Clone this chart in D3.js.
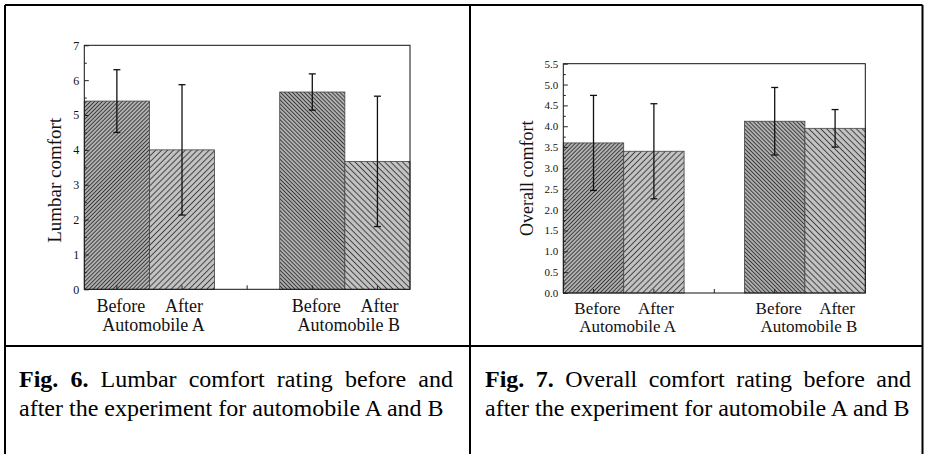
<!DOCTYPE html>
<html><head><meta charset="utf-8">
<script src="https://cdn.jsdelivr.net/npm/d3@7/dist/d3.min.js"></script>
<style>html,body{margin:0;padding:0;background:#fff;} svg{display:block;}</style>
</head><body>
<svg id="fig" width="927" height="454"></svg>
<script>
// ---------------- data ----------------
const groups = ["Automobile A", "Automobile B"];
const conditions = ["Before", "After"];
const lumbarMeans = [5.40, 4.00, 5.66, 3.67];
const lumbarErrors = [0.90, 1.87, 0.52, 1.87];
const overallMeans = [3.60, 3.40, 4.12, 3.95];
const overallErrors = [1.14, 1.14, 0.81, 0.45];
const lumbarTicks = [0, 1, 2, 3, 4, 5, 6, 7];
const overallTicks = [0, 0.5, 1, 1.5, 2, 2.5, 3, 3.5, 4, 4.5, 5, 5.5];
const yTitles = ["Lumbar comfort", "Overall comfort"];
const captionBold = ["Fig. 6.", "Fig. 7."];
const captionLine1 = [" Lumbar comfort rating before and", " Overall comfort rating before and"];
const captionLine2 = ["after the experiment for automobile A and B", "after the experiment for automobile A and B"];

// ---------------- setup ----------------
const FONT = "'Liberation Serif','Times New Roman',Times,serif";
const svg = d3.select("#fig");
const defs = svg.append("defs");

function hatch(id, angle, spacing, bg, fg, sw) {
  const p = defs.append("pattern").attr("id", id).attr("patternUnits", "userSpaceOnUse")
    .attr("width", spacing).attr("height", spacing)
    .attr("patternTransform", `rotate(${angle})`);
  p.append("rect").attr("width", spacing).attr("height", spacing).attr("fill", bg);
  p.append("line").attr("x1", spacing / 2).attr("x2", spacing / 2).attr("y1", -1).attr("y2", spacing + 1)
    .attr("stroke", fg).attr("stroke-width", sw);
}
hatch("hBeforeA", 45, 2.8, "#b4b4b4", "#3a3a3a", 1.0);
hatch("hAfterA", 45, 4.2, "#c4c4c4", "#404040", 1.0);
hatch("hBeforeB", -45, 2.8, "#b4b4b4", "#3a3a3a", 1.0);
hatch("hAfterB", -45, 4.2, "#c4c4c4", "#404040", 1.0);
const patternIds = ["hBeforeA", "hAfterA", "hBeforeB", "hAfterB"];

const slots = [];
groups.forEach((g, gi) => {
  conditions.forEach(c => slots.push(g + "|" + c));
  if (gi < groups.length - 1) slots.push("gap" + gi);
});

function drawChart(opt) {
  const g = svg.append("g");
  const x = d3.scaleBand().domain(slots).range([opt.left, opt.right]).padding(0);
  const y = d3.scaleLinear().domain([0, d3.max(opt.ticks)]).range([opt.bottom, opt.top]);
  const bw = x.bandwidth();

  const data = [];
  groups.forEach((gr, gi) => conditions.forEach((c, ci) => {
    const i = gi * conditions.length + ci;
    data.push({ key: gr + "|" + c, cond: c, group: gr, mean: opt.means[i], err: opt.errors[i], pat: patternIds[i] });
  }));

  g.selectAll("rect.bar").data(data).join("rect").attr("class", "bar")
    .attr("x", d => x(d.key)).attr("width", bw)
    .attr("y", d => y(d.mean)).attr("height", d => y(0) - y(d.mean))
    .attr("fill", d => `url(#${d.pat})`).attr("stroke", "#444").attr("stroke-width", 0.8);

  // frame
  g.append("rect").attr("x", opt.left).attr("y", opt.top)
    .attr("width", opt.right - opt.left).attr("height", opt.bottom - opt.top)
    .attr("fill", "none").attr("stroke", "#111").attr("stroke-width", 1);

  // y axis major
  const ya = g.append("g").attr("transform", `translate(${opt.left},0)`)
    .call(d3.axisLeft(y).tickValues(opt.ticks).tickSize(-4.5).tickPadding(5).tickFormat(opt.fmt));
  ya.select(".domain").remove();
  ya.selectAll("line").attr("stroke", "#222");
  ya.selectAll("text").attr("font-family", FONT).attr("font-size", opt.tickFont).attr("fill", "#111");
  // y axis minor
  const minor = [];
  for (let i = 0; i < opt.ticks.length - 1; i++) minor.push((opt.ticks[i] + opt.ticks[i + 1]) / 2);
  const ym = g.append("g").attr("transform", `translate(${opt.left},0)`)
    .call(d3.axisLeft(y).tickValues(minor).tickSize(-2.5).tickFormat(""));
  ym.select(".domain").remove();
  ym.selectAll("line").attr("stroke", "#222");

  // x axis ticks (inward)
  const xa = g.append("g").attr("transform", `translate(0,${opt.bottom})`)
    .call(d3.axisBottom(x).tickSize(-4).tickFormat(""));
  xa.select(".domain").remove();
  xa.selectAll("line").attr("stroke", "#222");

  // error bars
  const eb = g.selectAll("g.err").data(data).join("g").attr("class", "err")
    .attr("stroke", "#111").attr("stroke-width", 1.3);
  eb.append("line").attr("x1", d => x(d.key) + bw / 2).attr("x2", d => x(d.key) + bw / 2)
    .attr("y1", d => y(d.mean - d.err)).attr("y2", d => y(d.mean + d.err));
  eb.append("line").attr("x1", d => x(d.key) + bw / 2 - 3.5).attr("x2", d => x(d.key) + bw / 2 + 3.5)
    .attr("y1", d => y(d.mean + d.err)).attr("y2", d => y(d.mean + d.err));
  eb.append("line").attr("x1", d => x(d.key) + bw / 2 - 3.5).attr("x2", d => x(d.key) + bw / 2 + 3.5)
    .attr("y1", d => y(d.mean - d.err)).attr("y2", d => y(d.mean - d.err));

  // x labels
  g.selectAll("text.cond").data(data).join("text").attr("class", "cond")
    .attr("x", d => x(d.key) + bw / 2 + (d.cond === "Before" ? 4 : 2))
    .attr("y", opt.bottom + opt.condDy)
    .attr("text-anchor", "middle").attr("font-family", FONT).attr("font-size", opt.labelFont).attr("fill", "#111")
    .text(d => d.cond);
  g.selectAll("text.grp").data(groups).join("text").attr("class", "grp")
    .attr("x", gr => (x(gr + "|" + conditions[0]) + x(gr + "|" + conditions[conditions.length - 1]) + bw) / 2 + 4)
    .attr("y", opt.bottom + opt.grpDy)
    .attr("text-anchor", "middle").attr("font-family", FONT).attr("font-size", opt.labelFont).attr("fill", "#111")
    .text(gr => gr);

  // y title
  g.append("text").attr("transform", `translate(${opt.titleX},${(opt.top + opt.bottom) / 2 + opt.titleDy}) rotate(-90)`)
    .attr("text-anchor", "middle").attr("font-family", FONT).attr("font-size", opt.titleFont).attr("fill", "#111")
    .text(opt.title);
}

drawChart({ left: 84.3, right: 410, top: 45.3, bottom: 289.3, ticks: lumbarTicks, fmt: d3.format("d"),
  means: lumbarMeans, errors: lumbarErrors, tickFont: 12, labelFont: 18, condDy: 22.5, grpDy: 41.5,
  title: yTitles[0], titleX: 61, titleDy: 13, titleFont: 19 });
drawChart({ left: 563.3, right: 865.3, top: 63.7, bottom: 293, ticks: overallTicks, fmt: d3.format(".1f"),
  means: overallMeans, errors: overallErrors, tickFont: 11, labelFont: 17, condDy: 20.5, grpDy: 38.7,
  title: yTitles[1], titleX: 533, titleDy: 0, titleFont: 18 });

// table frame
const frame = svg.append("g").attr("stroke", "#000").attr("stroke-width", 2);
[[5, 5, 922.5, 5], [5, 346, 922.5, 346], [5, 5, 5, 460], [470, 5, 470, 460], [922.5, 5, 922.5, 460]]
  .forEach(l => frame.append("line").attr("x1", l[0]).attr("y1", l[1]).attr("x2", l[2]).attr("y2", l[3]));

// captions
const capX = [19, 485];
const capW = [434, 426];
captionBold.forEach((b, i) => {
  const t1 = svg.append("text").attr("x", capX[i]).attr("y", 386.5)
    .attr("font-family", FONT).attr("font-size", 24).attr("fill", "#000");
  t1.append("tspan").attr("font-weight", "bold").text(b);
  t1.append("tspan").text(captionLine1[i]);
  const w = t1.node().getComputedTextLength();
  const nSpaces = (b + captionLine1[i]).split(" ").length - 1;
  if (w < capW[i]) t1.attr("word-spacing", (capW[i] - w) / nSpaces);
  svg.append("text").attr("x", capX[i]).attr("y", 415.5)
    .attr("font-family", FONT).attr("font-size", 24).attr("fill", "#000")
    .text(captionLine2[i]);
});
</script>
</body></html>
